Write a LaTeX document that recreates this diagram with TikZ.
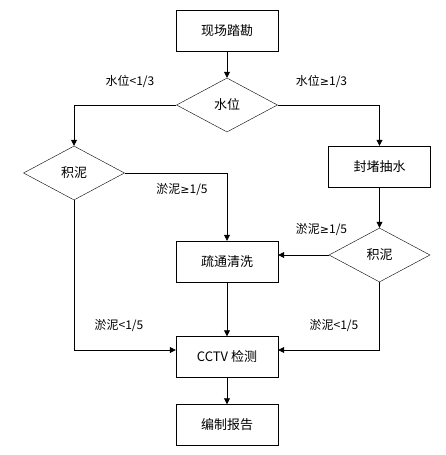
\documentclass[tikz,border=0pt]{standalone}
\usepackage{fontspec}
\setmainfont{Noto Sans CJK SC}
\newfontfamily\symfont{DejaVu Sans}
\newcommand{\atleast}{{\symfont\fontsize{11}{11}\selectfont ≥}}
\usetikzlibrary{shapes.geometric,arrows.meta}
\tikzset{
  stepbox/.style={draw,minimum width=102pt,minimum height=41pt,inner sep=0pt,font=\fontsize{13}{13}\selectfont},
  choice/.style={draw,diamond,aspect=2,minimum width=101pt,minimum height=54pt,inner sep=0pt,font=\fontsize{13}{13}\selectfont},
  flow/.style={-{Triangle[length=6pt,width=6pt]},line width=0.8pt},
  cond/.style={font=\fontsize{12}{12}\selectfont}
}
\begin{document}
\begin{tikzpicture}[x=1pt,y=-1pt]
\useasboundingbox (0,0) rectangle (445,455);
\node[stepbox] (survey) at (227,30.5) {现场踏勘};
\node[choice] (level) at (227,105) {水位};
\node[choice] (siltA) at (74,173) {积泥};
\node[stepbox] (seal) at (379.5,166.5) {封堵抽水};
\node[stepbox] (dredge) at (227,261.5) {疏通清洗};
\node[choice] (siltB) at (379.5,255) {积泥};
\node[stepbox] (cctv) at (227,357) {CCTV 检测};
\node[stepbox] (report) at (227,425) {编制报告};
\draw[flow] (survey) -- (level);
\draw[flow] (level.west) -| (siltA.north);
\draw[flow] (level.east) -| (seal.north);
\draw[flow] (siltA.east) -| (dredge.north);
\draw[flow] (seal) -- (siltB);
\draw[flow] (siltB.west) -- (siltB.west -| dredge.east);
\draw[flow] (dredge) -- (cctv);
\draw[flow] (siltA.south) |- ([yshift=7pt]cctv.west);
\draw[flow] (siltB.south) |- ([yshift=7pt]cctv.east);
\draw[flow] (cctv) -- (report);
\node[cond] at (130,81) {水位<1/3};
\node[cond] at (321.5,81) {水位\atleast1/3};
\node[cond] at (182,190) {淤泥\atleast1/5};
\node[cond] at (321.5,230) {淤泥\atleast1/5};
\node[cond] at (119,326) {淤泥<1/5};
\node[cond] at (334,326) {淤泥<1/5};
\end{tikzpicture}
\end{document}
